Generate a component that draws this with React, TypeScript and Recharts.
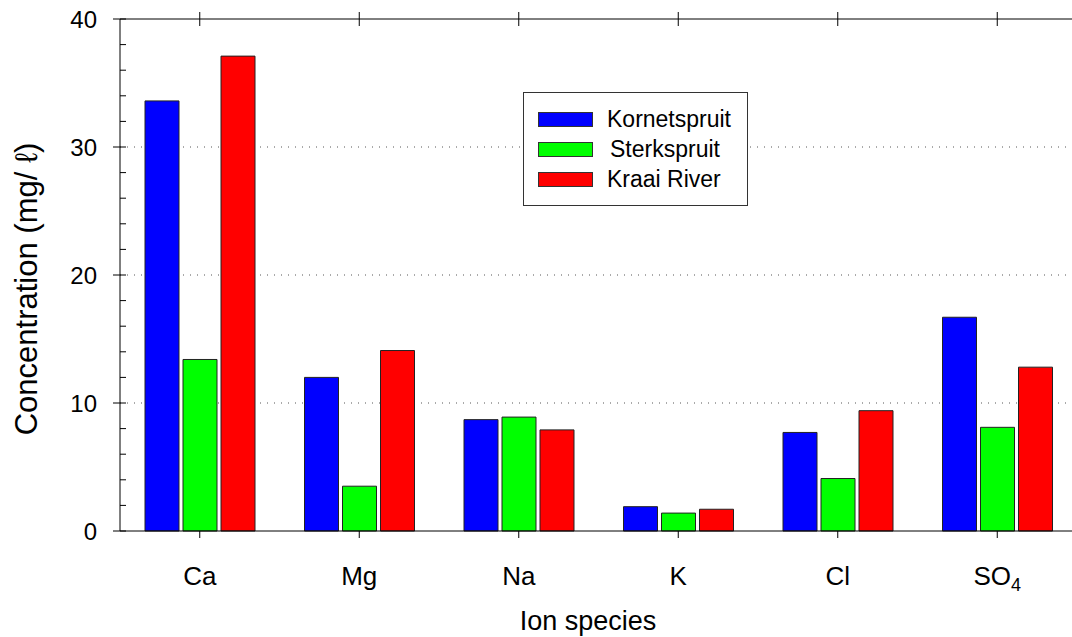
import React from "react";
import {
  BarChart,
  Bar,
  XAxis,
  YAxis,
  CartesianGrid,
} from "recharts";

const ions = ["Ca", "Mg", "Na", "K", "Cl", "SO4"];
const kornetspruit = [33.6, 12.0, 8.7, 1.9, 7.7, 16.7];
const sterkspruit = [13.4, 3.5, 8.9, 1.4, 4.1, 8.1];
const kraaiRiver = [37.1, 14.1, 7.9, 1.7, 9.4, 12.8];
// every 2 units a tick; the multiples of 10 carry a label
const yTicks = [0, 2, 4, 6, 8, 10, 12, 14, 16, 18, 20, 22, 24, 26, 28, 30, 32, 34, 36, 38, 40];
const gridValues = [10, 20, 30];

const series = [
  { key: "kornetspruit", name: "Kornetspruit", color: "#0000ff" },
  { key: "sterkspruit", name: "Sterkspruit", color: "#00ff00" },
  { key: "kraai", name: "Kraai River", color: "#ff0000" },
];

const data = ions.map((ion, i) => ({
  ion,
  kornetspruit: kornetspruit[i],
  sterkspruit: sterkspruit[i],
  kraai: kraaiRiver[i],
}));

const FONT = '"Liberation Sans", Arial, Helvetica, sans-serif';

// "SO4" gets its 4 as a subscript
function IonTick(props: any) {
  const { x, y, payload } = props;
  const v: string = payload.value;
  const m = v.match(/^([A-Za-z]+)(\d*)$/);
  const base = m ? m[1] : v;
  const sub = m ? m[2] : "";
  return (
    <text x={x} y={y + 47} textAnchor="middle" fontSize={26} fontFamily={FONT} fill="#000">
      <tspan>{base}</tspan>
      {sub ? (
        <tspan fontSize={18} dy={6}>
          {sub}
        </tspan>
      ) : null}
    </text>
  );
}

// top frame ticks cross the border line (y is the outer end)
function TopTick(props: any) {
  const { x, y } = props;
  return <line x1={x} x2={x} y1={y} y2={y + 14} stroke="#000" strokeWidth={1} />;
}

// x sits on the axis line: minor ticks point inward, majors cross it
function ValueTick(props: any) {
  const { x, y, payload } = props;
  const v: number = payload.value;
  const major = v % 10 === 0;
  return (
    <g>
      <line x1={major ? x - 7 : x} x2={x + 6} y1={y} y2={y} stroke="#000" strokeWidth={1} />
      {major ? (
        <text x={x - 23} y={y + 9} textAnchor="end" fontSize={24} fontFamily={FONT} fill="#000">
          {v}
        </text>
      ) : null}
    </g>
  );
}

function Legend() {
  return (
    <div
      style={{
        position: "absolute",
        left: 523,
        top: 92,
        width: 223,
        height: 112,
        border: "1px solid #333",
        background: "#fff",
        fontFamily: FONT,
        fontSize: 23,
        boxSizing: "content-box",
      }}
    >
      {series.map((s, i) => (
        <div
          key={s.key}
          style={{
            position: "absolute",
            left: 14,
            top: 19 + i * 30,
            height: 14,
            display: "flex",
            alignItems: "center",
            whiteSpace: "nowrap",
          }}
        >
          <div
            style={{
              width: 53,
              height: 13,
              background: s.color,
              border: "1px solid #333",
              flex: "none",
            }}
          />
          <span style={{ marginLeft: i === 1 ? 17 : 14, lineHeight: "14px" }}>{s.name}</span>
        </div>
      ))}
    </div>
  );
}

export default function App() {
  return (
    <div
      style={{
        position: "fixed",
        left: 0,
        top: 0,
        width: 1072,
        height: 637,
        overflow: "hidden",
        background: "#fff",
      }}
    >
      <BarChart
        width={1080}
        height={637}
        data={data}
        margin={{ top: 12, right: 3, bottom: 0, left: 0 }}
        barCategoryGap={25}
        barGap={4}
      >
        <CartesianGrid
          vertical={false}
          horizontalValues={gridValues}
          stroke="#555"
          strokeDasharray="1 6"
        />
        <XAxis
          dataKey="ion"
          height={106}
          interval={0}
          tickSize={7}
          tickMargin={0}
          axisLine={{ stroke: "#000" }}
          tickLine={{ stroke: "#000" }}
          tick={<IonTick />}
          label={() => (
            <text x={588} y={630} textAnchor="middle" fontSize={27} fontFamily={FONT} fill="#000">
              Ion species
            </text>
          )}
        />
        <XAxis
          xAxisId="top"
          dataKey="ion"
          orientation="top"
          height={7}
          interval={0}
          tickSize={7}
          tickMargin={0}
          axisLine={{ stroke: "#000" }}
          tickLine={false}
          tick={<TopTick />}
        />
        <YAxis
          width={120}
          domain={[0, 40]}
          ticks={yTicks}
          interval={0}
          tickSize={0}
          tickMargin={0}
          axisLine={{ stroke: "#000" }}
          tickLine={false}
          tick={<ValueTick />}
          label={() => (
            <text
              x={37}
              y={289}
              transform="rotate(-90 37 289)"
              textAnchor="middle"
              fontSize={31}
              fontFamily={FONT}
              fill="#000"
            >
              Concentration (mg/ {"\u2113"})
            </text>
          )}
        />
        {series.map((s) => (
          <Bar
            key={s.key}
            dataKey={s.key}
            name={s.name}
            fill={s.color}
            stroke="#222"
            strokeWidth={1}
            isAnimationActive={false}
          />
        ))}
      </BarChart>
      <Legend />
    </div>
  );
}
